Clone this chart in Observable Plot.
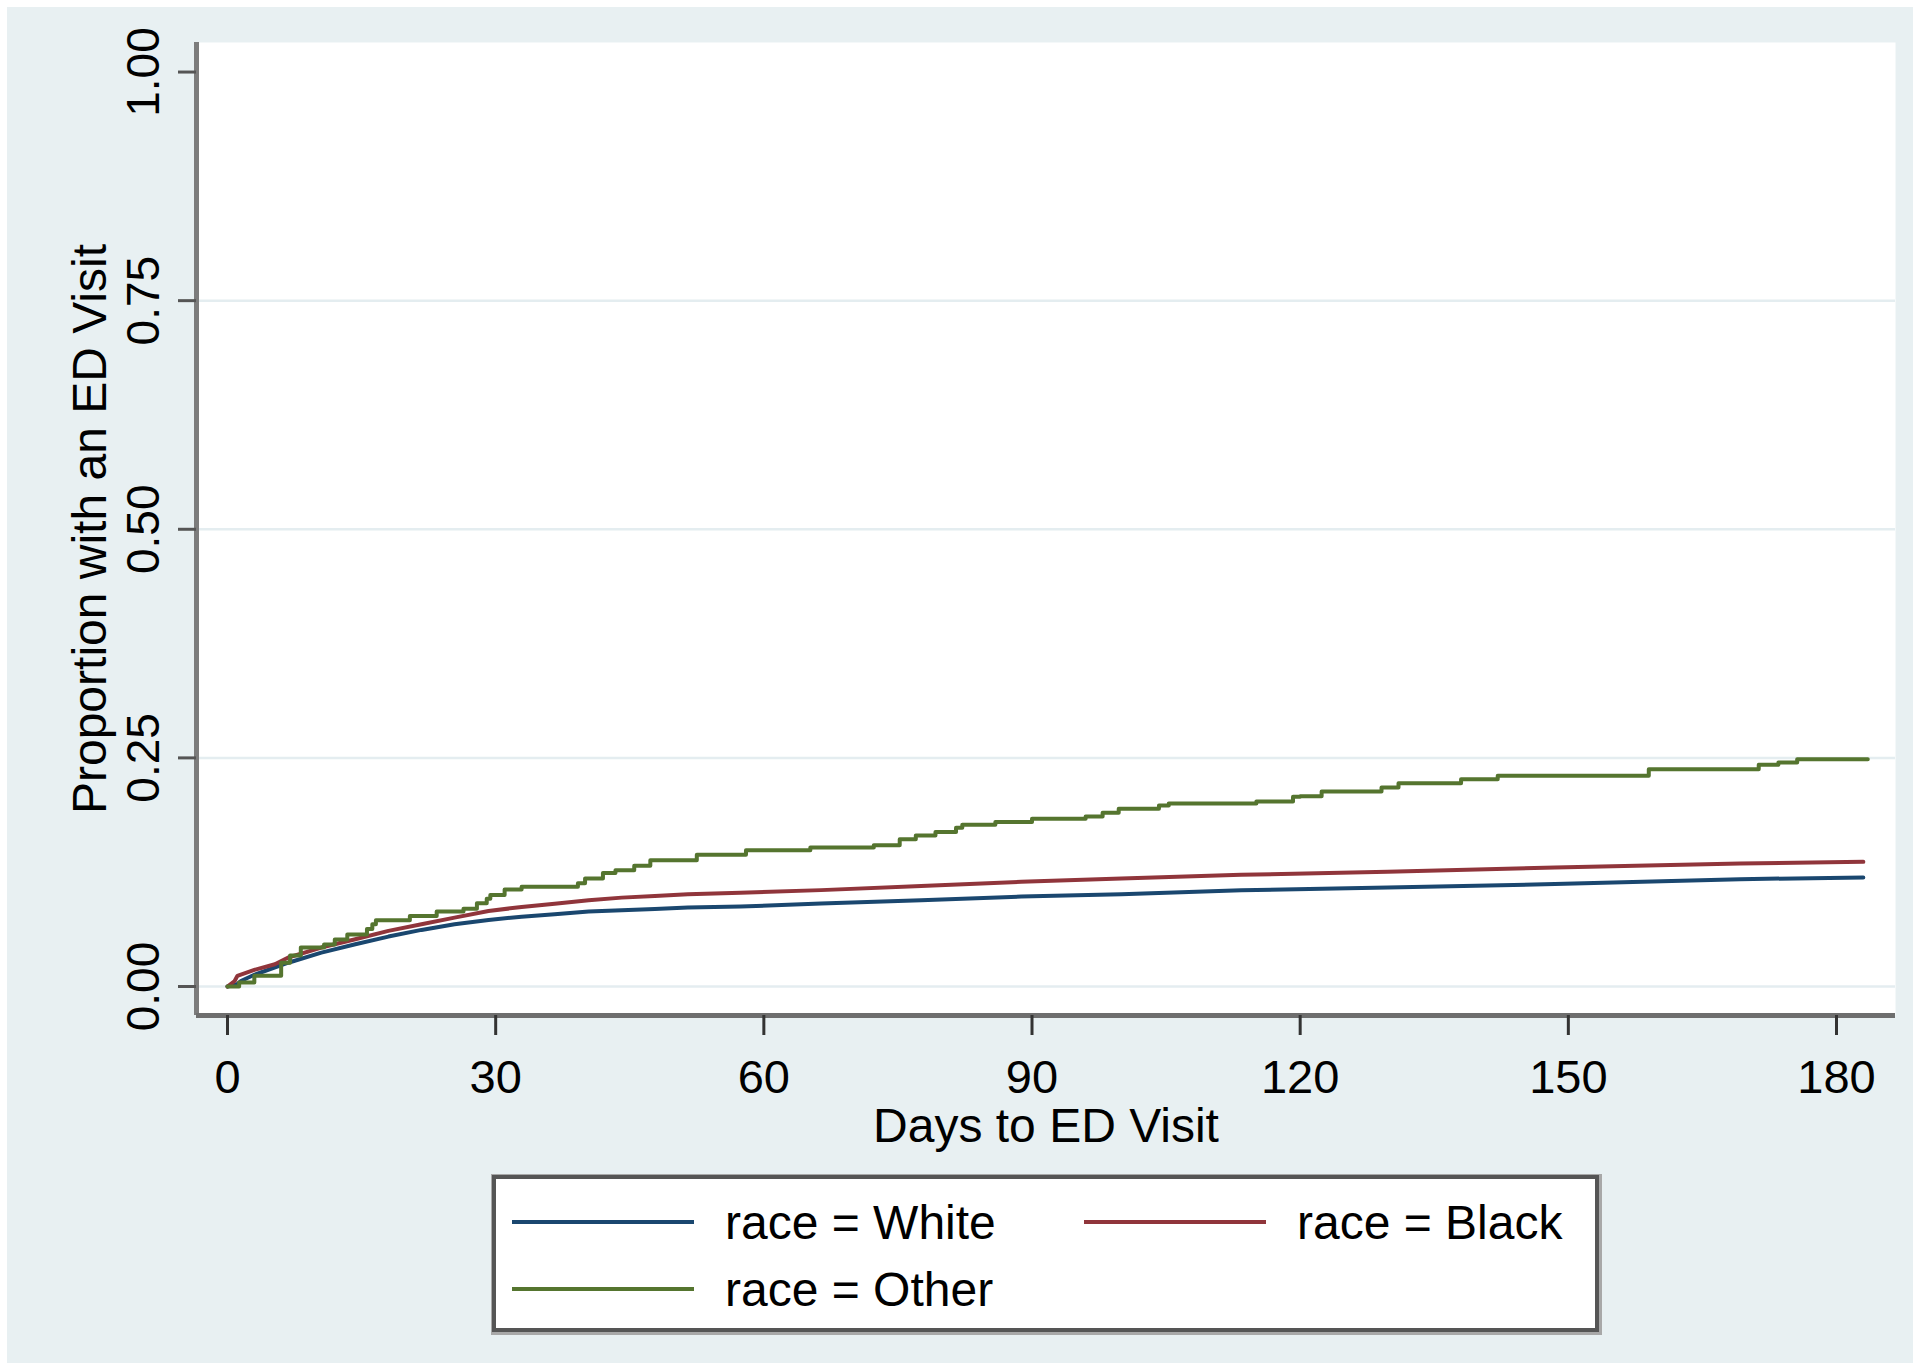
<!DOCTYPE html>
<html>
<head>
<meta charset="utf-8">
<script src="https://cdn.jsdelivr.net/npm/d3@7"></script>
<script src="https://cdn.jsdelivr.net/npm/@observablehq/plot@0.6"></script>
<style>
html, body { margin: 0; padding: 0; background: #ffffff; }
#page { position: relative; width: 1920px; height: 1372px; overflow: hidden; font-family: "Liberation Sans", Arial, sans-serif; }
#bg { position: absolute; left: 7px; top: 7px; width: 1906px; height: 1356px; background: #E8F0F2; }
#chart { position: absolute; left: 0; top: 0; }
#legend { position: absolute; left: 492px; top: 1175px; width: 1107px; height: 157px; box-sizing: border-box;
  background: #ffffff; border: 4px solid #555555; box-shadow: 1px 1px 0 2px #a8a8a8; }
.item { position: absolute; height: 60px; display: flex; align-items: center; font-size: 48px; color: #000; white-space: nowrap; }
.swatch { display: inline-block; width: 182px; height: 4px; margin-right: 31px; }
</style>
</head>
<body>
<div id="page">
  <div id="bg"></div>
  <div id="chart"></div>
  <div id="legend"></div>
</div>
<script>
// ---- Data ----
const seriesNames = ["race = White", "race = Black", "race = Other"];
const seriesColors = ["#1A476F", "#90353B", "#55752F"];

const whiteDays = [0, 1.1, 1.5, 3, 6.8, 10.5, 14.3, 18, 21.7, 25.4, 29.2, 32.9, 36.6, 40.4, 44.1, 47.8, 51.5, 57.4, 66.4, 77.6, 88.8, 100, 113.4, 129.8, 148.5, 169.2, 183];
const whiteProp = [0, 0.0026, 0.006, 0.0128, 0.026, 0.037, 0.0462, 0.0546, 0.0619, 0.068, 0.0728, 0.0764, 0.079, 0.0819, 0.0834, 0.0848, 0.0863, 0.0875, 0.0907, 0.0944, 0.0984, 0.1009, 0.1053, 0.1083, 0.112, 0.1174, 0.1192];

const blackDays = [0, 0.8, 1.1, 3, 5.3, 6.8, 10.5, 14.3, 18, 21.7, 25.4, 29.2, 32.9, 36.6, 40.4, 44.1, 47.8, 51.5, 57.4, 66.4, 77.6, 88.8, 100, 113.4, 129.8, 148.5, 169.2, 183];
const blackProp = [0, 0.006, 0.0117, 0.0182, 0.0244, 0.0317, 0.0426, 0.0517, 0.0608, 0.068, 0.0753, 0.0826, 0.087, 0.0906, 0.0943, 0.0972, 0.099, 0.1008, 0.1026, 0.1054, 0.110, 0.1145, 0.118, 0.1221, 0.1254, 0.1301, 0.1345, 0.1363];

const otherDays = [0, 1.3, 3.0, 6.0, 7.0, 8.2, 10.8, 12.0, 13.4, 15.6, 16.2, 16.6, 20.4, 23.4, 26.4, 27.9, 29.0, 29.4, 31.0, 32.9, 39.2, 40.0, 42.0, 43.4, 45.5, 47.3, 52.5, 58.0, 65.2, 72.3, 75.2, 77.0, 79.2, 81.5, 82.2, 85.9, 90.0, 96.0, 97.9, 99.7, 104.2, 105.3, 115.1, 119.2, 120.0, 122.4, 129.1, 131.0, 138.0, 142.1, 159.0, 171.3, 173.5, 175.6, 183.5];
const otherProp = [0, 0.0044, 0.0117, 0.026, 0.034, 0.0426, 0.046, 0.0515, 0.057, 0.063, 0.068, 0.0725, 0.077, 0.082, 0.085, 0.091, 0.096, 0.100, 0.106, 0.109, 0.113, 0.118, 0.124, 0.127, 0.132, 0.138, 0.144, 0.149, 0.152, 0.1545, 0.161, 0.165, 0.169, 0.1735, 0.177, 0.180, 0.1835, 0.186, 0.190, 0.1945, 0.198, 0.200, 0.2023, 0.2074, 0.2081, 0.2132, 0.2175, 0.2223, 0.2267, 0.2304, 0.2377, 0.2424, 0.245, 0.2486, 0.2486];

const xTicks = [0, 30, 60, 90, 120, 150, 180];
const yTicks = [0, 0.25, 0.5, 0.75, 1];
const yGrid = [0, 0.25, 0.5, 0.75];
const xTitle = "Days to ED Visit";
const yTitle = "Proportion with an ED Visit";

// ---- Build tables ----
const toRows = (days, props) => days.map((d, i) => ({day: d, p: props[i]}));
const whiteRows = toRows(whiteDays, whiteProp);
const blackRows = toRows(blackDays, blackProp);
const otherRows = toRows(otherDays, otherProp);

const xDomain = [-3.47, 186.6];
const yDomain = [-0.0317, 1.0323];
const font = "Liberation Sans, Arial, sans-serif";

const chart = Plot.plot({
  width: 1920,
  height: 1372,
  marginLeft: 196,
  marginRight: 25,
  marginTop: 42,
  marginBottom: 357,
  style: {background: "transparent", fontFamily: font, color: "#000"},
  x: {domain: xDomain},
  y: {domain: yDomain},
  marks: [
    Plot.frame({fill: "#ffffff", stroke: null}),
    Plot.ruleY(yGrid, {stroke: "#E4EDF0", strokeWidth: 2.5}),
    Plot.line(whiteRows, {x: "day", y: "p", stroke: seriesColors[0], strokeWidth: 4}),
    Plot.line(blackRows, {x: "day", y: "p", stroke: seriesColors[1], strokeWidth: 4}),
    Plot.line(otherRows, {x: "day", y: "p", stroke: seriesColors[2], strokeWidth: 4, curve: "step-after"}),
    Plot.ruleX([xDomain[0]], {stroke: "#7c7c7c", strokeWidth: 5}),
    Plot.ruleY([yDomain[0]], {stroke: "#6e6e6e", strokeWidth: 5}),
    Plot.axisX({ticks: xTicks, tickSize: 20, tickPadding: 24, fontSize: 47, stroke: "#333", strokeWidth: 3, label: null}),
    Plot.axisY({ticks: yTicks, tickSize: 18, tickFormat: () => "", stroke: "#555", strokeWidth: 3, label: null}),
    Plot.text(yTicks, {y: d => d, text: d => d.toFixed(2), frameAnchor: "left", dx: -38, rotate: -90,
      textAnchor: "middle", lineAnchor: "bottom", fontSize: 46, fill: "#000"}),
    Plot.text([yTitle], {text: d => d, frameAnchor: "left", dx: -91, rotate: -90,
      textAnchor: "middle", lineAnchor: "bottom", fontSize: 48, fill: "#000"}),
    Plot.text([xTitle], {text: d => d, frameAnchor: "bottom", dy: 126,
      textAnchor: "middle", lineAnchor: "bottom", fontSize: 48, fill: "#000"})
  ]
});
document.getElementById("chart").appendChild(chart);

// ---- Legend ----
const legend = document.getElementById("legend");
const legendPos = [{left: 16, top: 13}, {left: 588, top: 13}, {left: 16, top: 80}];
seriesNames.forEach((name, i) => {
  const item = document.createElement("div");
  item.className = "item";
  item.style.left = legendPos[i].left + "px";
  item.style.top = legendPos[i].top + "px";
  const sw = document.createElement("span");
  sw.className = "swatch";
  sw.style.background = seriesColors[i];
  const label = document.createElement("span");
  label.textContent = name;
  item.appendChild(sw);
  item.appendChild(label);
  legend.appendChild(item);
});
</script>
</body>
</html>
